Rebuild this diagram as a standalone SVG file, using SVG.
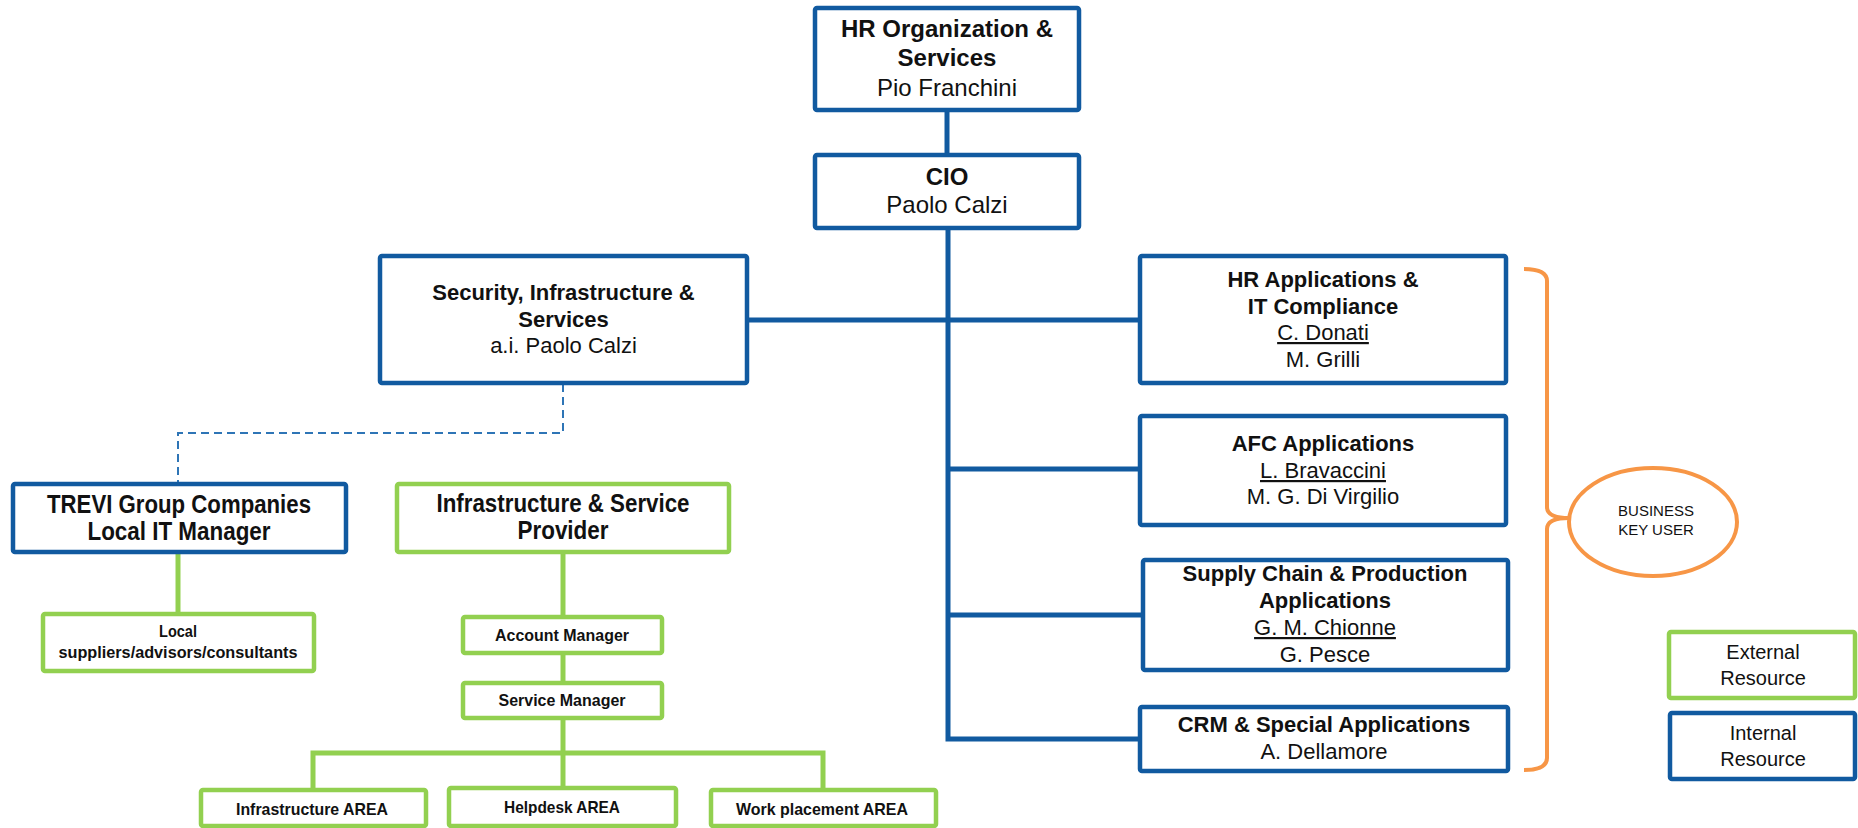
<svg xmlns="http://www.w3.org/2000/svg" width="1858" height="828" viewBox="0 0 1858 828">
<style>
.bg{fill:#ffffff}
.bx{fill:#ffffff;stroke-width:4.5;stroke-linejoin:round}
.blue{stroke:#115AA0}
.green{stroke:#92D050}
.cb{fill:none;stroke:#115AA0;stroke-width:5}
.cg{fill:none;stroke:#92D050;stroke-width:5}
.cd{fill:none;stroke:#2E75B6;stroke-width:2;stroke-dasharray:8 5}
.co{fill:none;stroke:#F79646;stroke-width:4;stroke-linejoin:round}
.tb{font-family:"Liberation Sans",Arial,sans-serif;font-weight:bold;fill:#111;text-anchor:middle}
.tr{font-family:"Liberation Sans",Arial,sans-serif;fill:#111;text-anchor:middle}
.tn{font-family:"Liberation Sans Narrow","Liberation Sans",Arial,sans-serif;font-weight:bold;fill:#111;text-anchor:middle}
.s24{font-size:24px}
.s22{font-size:22px}
.s20{font-size:20px}
.s15{font-size:15px}
.s25{font-size:25px}
.s17{font-size:17px}
.u{text-decoration:underline}
</style>
<rect class="bg" x="0" y="0" width="1858" height="828"/>
<g id="connectors">
<path class="cb" d="M947,110 V155"/>
<path class="cb" d="M948,229 V739 H1140"/>
<path class="cb" d="M748,320 H1140"/>
<path class="cb" d="M948,469 H1140"/>
<path class="cb" d="M948,615 H1143"/>
<path class="cd" d="M563,384 V433 H178 V484"/>
<path class="cg" d="M178,552 V614"/>
<path class="cg" d="M563,552 V617"/>
<path class="cg" d="M563,653 V683"/>
<path class="cg" d="M563,718 V753"/>
<path class="cg" d="M313,790 V753 H823 V790"/>
<path class="cg" d="M563,753 V788"/>
<path class="co" d="M1524,269 Q1547,269 1547,281 V507 Q1547,518 1569,518 Q1547,518 1547,529 V758 Q1547,770 1524,770"/>
</g>
<g id="hr-org">
<rect class="bx blue" x="815" y="8" width="264" height="102" rx="2"/>
<text class="tb s24" x="947" y="36.5">HR Organization &amp;</text>
<text class="tb s24" x="947" y="66">Services</text>
<text class="tr s24" x="947" y="95.5">Pio Franchini</text>
</g>
<g id="cio">
<rect class="bx blue" x="815" y="155" width="264" height="73" rx="2"/>
<text class="tb s24" x="947" y="185">CIO</text>
<text class="tr s24" x="947" y="213">Paolo Calzi</text>
</g>
<g id="security">
<rect class="bx blue" x="380" y="256" width="367" height="127" rx="2"/>
<text class="tb s22" x="563.5" y="300">Security, Infrastructure &amp;</text>
<text class="tb s22" x="563.5" y="327">Services</text>
<text class="tr s22" x="563.5" y="353">a.i. Paolo Calzi</text>
</g>
<g id="hr-apps">
<rect class="bx blue" x="1140" y="256" width="366" height="127" rx="2"/>
<text class="tb s22" x="1323" y="287">HR Applications &amp;</text>
<text class="tb s22" x="1323" y="314">IT Compliance</text>
<text class="tr s22 u" x="1323" y="340">C. Donati</text>
<text class="tr s22" x="1323" y="367">M. Grilli</text>
</g>
<g id="afc">
<rect class="bx blue" x="1140" y="416" width="366" height="109" rx="2"/>
<text class="tb s22" x="1323" y="451">AFC Applications</text>
<text class="tr s22 u" x="1323" y="478">L. Bravaccini</text>
<text class="tr s22" x="1323" y="504">M. G. Di Virgilio</text>
</g>
<g id="supply">
<rect class="bx blue" x="1143" y="560" width="365" height="110" rx="2"/>
<text class="tb s22" x="1325" y="581">Supply Chain &amp; Production</text>
<text class="tb s22" x="1325" y="608">Applications</text>
<text class="tr s22 u" x="1325" y="635">G. M. Chionne</text>
<text class="tr s22" x="1325" y="662">G. Pesce</text>
</g>
<g id="crm">
<rect class="bx blue" x="1140" y="707" width="368" height="64" rx="2"/>
<text class="tb s22" x="1324" y="732">CRM &amp; Special Applications</text>
<text class="tr s22" x="1324" y="759">A. Dellamore</text>
</g>
<g id="trevi">
<rect class="bx blue" x="13" y="484" width="333" height="68" rx="2"/>
<text class="tn s25" x="179" y="513" textLength="264" lengthAdjust="spacingAndGlyphs">TREVI Group Companies</text>
<text class="tn s25" x="179" y="540" textLength="183" lengthAdjust="spacingAndGlyphs">Local IT Manager</text>
</g>
<g id="infra-provider">
<rect class="bx green" x="397" y="484" width="332" height="68" rx="2"/>
<text class="tn s25" x="563" y="512" textLength="253" lengthAdjust="spacingAndGlyphs">Infrastructure &amp; Service</text>
<text class="tn s25" x="563" y="539" textLength="91" lengthAdjust="spacingAndGlyphs">Provider</text>
</g>
<g id="local-suppliers">
<rect class="bx green" x="43" y="614" width="271" height="57" rx="2"/>
<text class="tn s17" x="178" y="637" textLength="38" lengthAdjust="spacingAndGlyphs">Local</text>
<text class="tn s17" x="178" y="658" textLength="239" lengthAdjust="spacingAndGlyphs">suppliers/advisors/consultants</text>
</g>
<g id="account-manager">
<rect class="bx green" x="463" y="617" width="199" height="36" rx="2"/>
<text class="tn s17" x="562" y="641" textLength="134" lengthAdjust="spacingAndGlyphs">Account Manager</text>
</g>
<g id="service-manager">
<rect class="bx green" x="463" y="683" width="199" height="35" rx="2"/>
<text class="tn s17" x="562" y="706" textLength="127" lengthAdjust="spacingAndGlyphs">Service Manager</text>
</g>
<g id="infra-area">
<rect class="bx green" x="201" y="790" width="225" height="36" rx="2"/>
<text class="tn s17" x="312" y="815" textLength="152" lengthAdjust="spacingAndGlyphs">Infrastructure AREA</text>
</g>
<g id="helpdesk-area">
<rect class="bx green" x="449" y="788" width="227" height="38" rx="2"/>
<text class="tn s17" x="562" y="813" textLength="116" lengthAdjust="spacingAndGlyphs">Helpdesk AREA</text>
</g>
<g id="work-area">
<rect class="bx green" x="711" y="790" width="225" height="36" rx="2"/>
<text class="tn s17" x="822" y="815" textLength="172" lengthAdjust="spacingAndGlyphs">Work placement AREA</text>
</g>
<g id="business-key-user">
<ellipse cx="1653" cy="522" rx="84" ry="54" fill="#ffffff" stroke="#F79646" stroke-width="4"/>
<text class="tr s15" x="1656" y="516">BUSINESS</text>
<text class="tr s15" x="1656" y="535">KEY USER</text>
</g>
<g id="legend-external">
<rect class="bx green" x="1669" y="632" width="186" height="66" rx="2"/>
<text class="tr s20" x="1763" y="659">External</text>
<text class="tr s20" x="1763" y="685">Resource</text>
</g>
<g id="legend-internal">
<rect class="bx blue" x="1670" y="713" width="185" height="66" rx="2"/>
<text class="tr s20" x="1763" y="740">Internal</text>
<text class="tr s20" x="1763" y="766">Resource</text>
</g>
</svg>
